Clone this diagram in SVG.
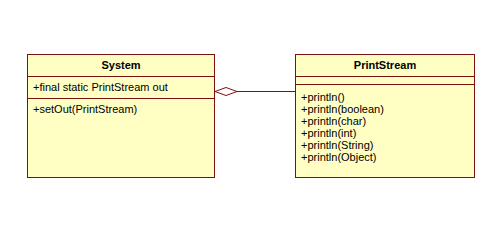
<svg xmlns="http://www.w3.org/2000/svg" width="500" height="225" viewBox="0 0 500 225">
<style>
.box{fill:#ffffc4;stroke:#7a1010;stroke-width:1}
.ln{stroke:#7a1010;stroke-width:1;fill:none}
text{font-family:"Liberation Sans",Arial,sans-serif;font-size:11px;fill:#000}
.t{font-weight:bold;text-anchor:middle}
</style>
<rect width="500" height="225" fill="#fff"/>
<g id="System">
<rect class="box" x="27.5" y="54.5" width="187" height="123"/>
<line class="ln" x1="27.5" y1="76.5" x2="214.5" y2="76.5"/>
<line class="ln" x1="27.5" y1="98.5" x2="214.5" y2="98.5"/>
<text class="t" x="121" y="69">System</text>
<text x="33" y="91">+final static PrintStream out</text>
<text x="33" y="113">+setOut(PrintStream)</text>
</g>
<g id="PrintStream">
<rect class="box" x="295.5" y="54.5" width="179" height="123"/>
<line class="ln" x1="295.5" y1="76.5" x2="474.5" y2="76.5"/>
<line class="ln" x1="295.5" y1="84.5" x2="474.5" y2="84.5"/>
<text class="t" x="385" y="69">PrintStream</text>
<text x="301" y="101">+println()</text>
<text x="301" y="113">+println(boolean)</text>
<text x="301" y="125">+println(char)</text>
<text x="301" y="137">+println(int)</text>
<text x="301" y="149">+println(String)</text>
<text x="301" y="161">+println(Object)</text>
</g>
<g id="connectors">
<line class="ln" x1="237" y1="91.5" x2="295.5" y2="91.5"/>
<polygon points="215,91.5 226,87.5 237,91.5 226,95.5" fill="#fff" stroke="#7a1010" stroke-width="1"/>
</g>
</svg>
